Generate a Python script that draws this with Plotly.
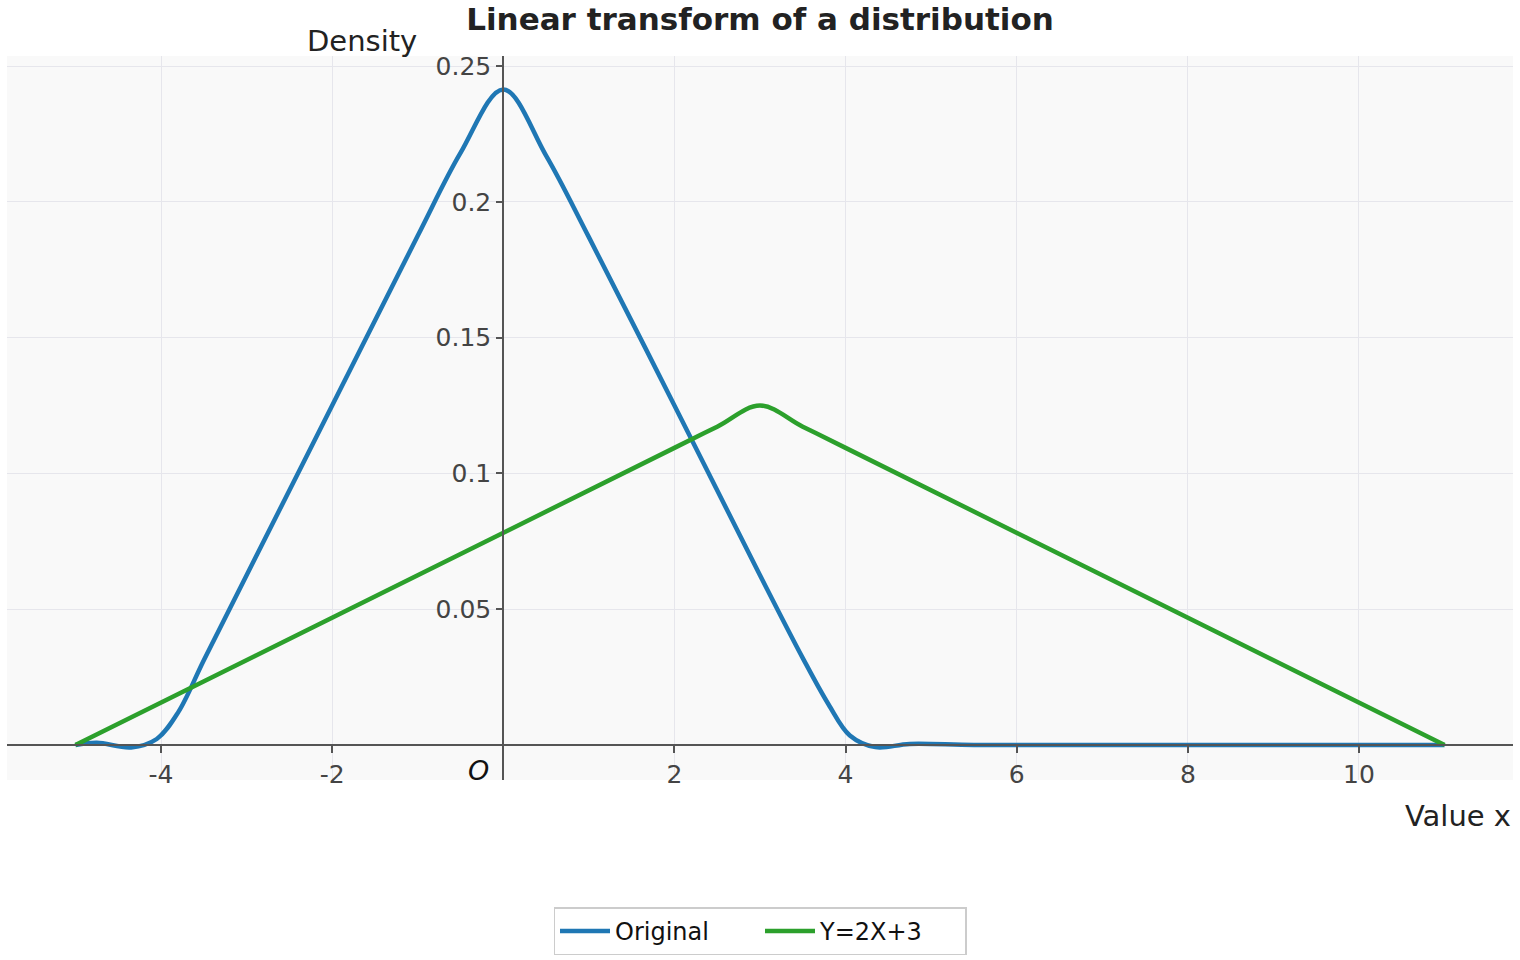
import plotly.graph_objects as go

# ---- data ----
orig_x = [-5, -4.75, -4.35, -4.05, -3.8, -3.5, -3.0, -2.0, -1.0, -0.5, 0, 0.5, 1.0,
          2.0, 3.0, 3.5, 3.8, 4.05, 4.35, 4.75, 5.5, 7, 9, 11]
orig_y = [0, 0.0008, -0.0009, 0.0022, 0.0120, 0.0312, 0.0625, 0.125, 0.1875, 0.2180, 0.2414,
          0.2170, 0.187, 0.125, 0.0625, 0.0320, 0.0150, 0.0035, -0.0008, 0.0004, 0, 0, 0, 0]

trans_x = [-5, -1, 2, 2.5, 3, 3.5, 4, 7, 11]
trans_y = [0, 0.0625, 0.1094, 0.1172, 0.125, 0.1172, 0.1094, 0.0625, 0]

x_tick_vals = [-4, -2, 2, 4, 6, 8, 10]
x_tick_text = ["-4", "-2", "2", "4", "6", "8", "10"]
y_tick_vals = [0.05, 0.1, 0.15, 0.2, 0.25]
y_tick_text = ["0.05", "0.1", "0.15", "0.2", "0.25"]

x_range = [-5.8, 11.8]
y_range = [-0.0129, 0.2537]

FONT = "DejaVu Sans"
AXIS_COLOR = "#555555"
GRID_COLOR = "#e6e6ec"

fig = go.Figure()
fig.add_trace(go.Scatter(x=orig_x, y=orig_y, mode="lines", name="Original",
                         line=dict(color="#1f77b4", width=4.5, shape="spline", smoothing=1)))
fig.add_trace(go.Scatter(x=trans_x, y=trans_y, mode="lines", name="Y=2X+3",
                         line=dict(color="#2ca02c", width=4.5, shape="spline", smoothing=1)))

# positions of the axis lines (at data 0) expressed as paper fractions
x_axis_pos = (0 - y_range[0]) / (y_range[1] - y_range[0])
y_axis_pos = (0 - x_range[0]) / (x_range[1] - x_range[0])

fig.update_layout(
    width=1520, height=960,
    margin=dict(l=7, r=7, t=56, b=180, autoexpand=False),
    paper_bgcolor="white",
    plot_bgcolor="#f9f9f9",
    font=dict(family=FONT, color="#444444", size=25),
    title=dict(text="<b>Linear transform of a distribution</b>", x=0.5, xref="paper",
               y=1 - 19 / 960, yref="container", yanchor="middle", xanchor="center",
               font=dict(family=FONT, size=31, color="#222222")),
    showlegend=True,
    legend=dict(orientation="h", x=0.5, xanchor="center", y=-0.209, yanchor="middle",
                bgcolor="white", bordercolor="#cccccc", borderwidth=1.5,
                font=dict(family=FONT, size=24, color="#111111"),
                itemwidth=50, entrywidth=140, entrywidthmode="pixels", tracegroupgap=0),
    xaxis=dict(range=x_range, anchor="free", position=x_axis_pos,
               showline=True, linecolor=AXIS_COLOR, linewidth=2,
               ticks="outside", ticklen=7, tickwidth=2, tickcolor=AXIS_COLOR,
               tickvals=x_tick_vals, ticktext=x_tick_text,
               showgrid=True, gridcolor=GRID_COLOR, gridwidth=1, zeroline=False,
               tickfont=dict(size=25, color="#444444")),
    yaxis=dict(range=y_range, anchor="free", position=y_axis_pos,
               showline=True, linecolor=AXIS_COLOR, linewidth=2,
               ticks="outside", ticklen=6, tickwidth=2, tickcolor=AXIS_COLOR,
               tickvals=y_tick_vals, ticktext=y_tick_text,
               showgrid=True, gridcolor=GRID_COLOR, gridwidth=1, zeroline=False,
               tickfont=dict(size=25, color="#444444")),
)

fig.add_annotation(text="Density", xref="x", yref="paper", x=-1.65, y=1, yshift=-4,
                   xanchor="center", yanchor="bottom", showarrow=False,
                   font=dict(family=FONT, size=29, color="#222222"))
fig.add_annotation(text="Value x", xref="paper", yref="paper", x=1, y=0, yshift=-36,
                   xanchor="right", yanchor="middle", showarrow=False,
                   font=dict(family=FONT, size=29, color="#222222"))
fig.add_annotation(text="<i>O</i>", xref="x", yref="y", x=0, y=0, xshift=-12, yshift=-26,
                   xanchor="right", yanchor="middle", showarrow=False,
                   font=dict(family=FONT, size=27, color="#111111"))

fig.write_html("out.html")
